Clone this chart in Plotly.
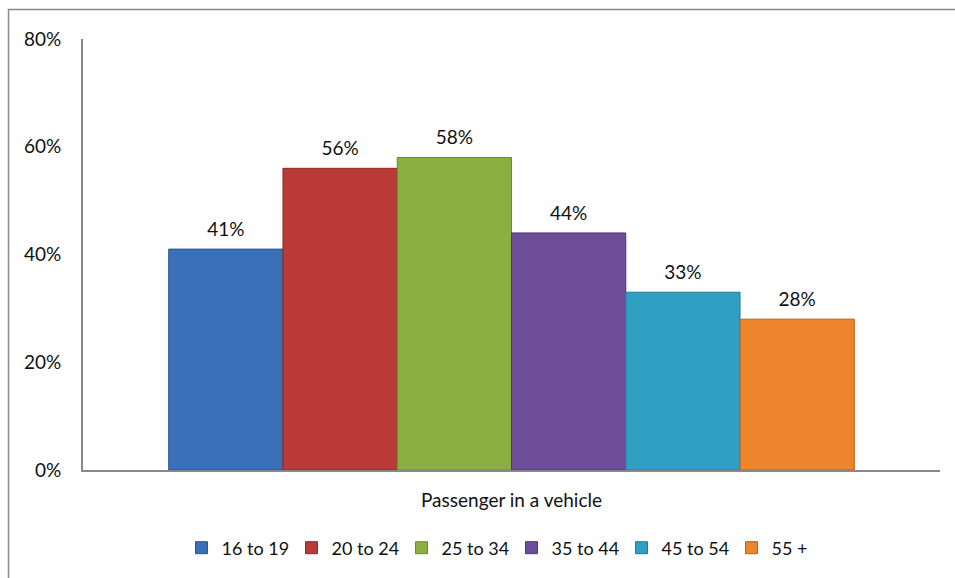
import plotly.graph_objects as go

category = ["Passenger in a vehicle"]
age_groups = ["16 to 19", "20 to 24", "25 to 34", "35 to 44", "45 to 54", "55 +"]
values = [0.41, 0.56, 0.58, 0.44, 0.33, 0.28]
colors = ["#3A70B8", "#B93A37", "#8BB041", "#6E4E99", "#2FA0C2", "#EC852B"]
edge_colors = ["#2A5590", "#8C2A28", "#6A8A2E", "#503570", "#217A96", "#B8621C"]
y_ticks = [0, 0.2, 0.4, 0.6, 0.8]
y_tick_labels = ["0%", "20%", "40%", "60%", "80%"]

FONT = "Lato, 'Open Sans', sans-serif"
FS = 19

fig = go.Figure()
for name, v, c, ec in zip(age_groups, values, colors, edge_colors):
    fig.add_trace(go.Bar(
        x=category, y=[v], name=name, offsetgroup=name,
        marker=dict(color=c, line=dict(color=ec, width=1)),
    ))
for name, v in zip(age_groups, values):
    fig.add_trace(go.Scatter(
        x=category, y=[v], name=name, offsetgroup=name, showlegend=False,
        mode="markers+text", marker=dict(size=12, opacity=0),
        text=[f"{round(v*100)}%"], textposition="top center",
        textfont=dict(size=FS, color="#111", family=FONT),
        cliponaxis=False, hoverinfo="skip",
    ))

W, H = 955, 578
L, R, T, B = 83, 15, 39, 108
pw, ph = W - L - R, H - T - B

def px(x):
    return (x - L) / pw

def py(y):
    return (H - B - y) / ph

fig.update_layout(
    width=W, height=H,
    margin=dict(l=L, r=R, t=T, b=B),
    paper_bgcolor="white", plot_bgcolor="white",
    barmode="group", bargap=0.2, bargroupgap=0,
    scattermode="group", scattergap=0.2,
    font=dict(family=FONT, size=FS, color="#111"),
    showlegend=True,
    legend=dict(orientation="h", x=0.5, xanchor="center", y=py(548), yanchor="middle",
                font=dict(size=18, family=FONT), itemwidth=30, traceorder="normal",
                entrywidth=65, entrywidthmode="pixels"),
    xaxis=dict(showline=True, linecolor="#888", linewidth=2, ticks="",
               ticklabelstandoff=12,
               tickfont=dict(size=FS, family=FONT), showgrid=False),
    yaxis=dict(range=[0, 0.8], tickvals=y_ticks, ticktext=y_tick_labels,
               showline=True, linecolor="#888", linewidth=2, showgrid=False,
               ticks="", ticklabelstandoff=16,
               tickfont=dict(size=FS, family=FONT), zeroline=False),
    shapes=[dict(type="rect", xref="paper", yref="paper",
                 x0=px(8.5), x1=px(970), y0=py(590), y1=py(9.5),
                 line=dict(color="#888", width=1.5), fillcolor="rgba(0,0,0,0)")],
)

fig.write_html("out.html")
